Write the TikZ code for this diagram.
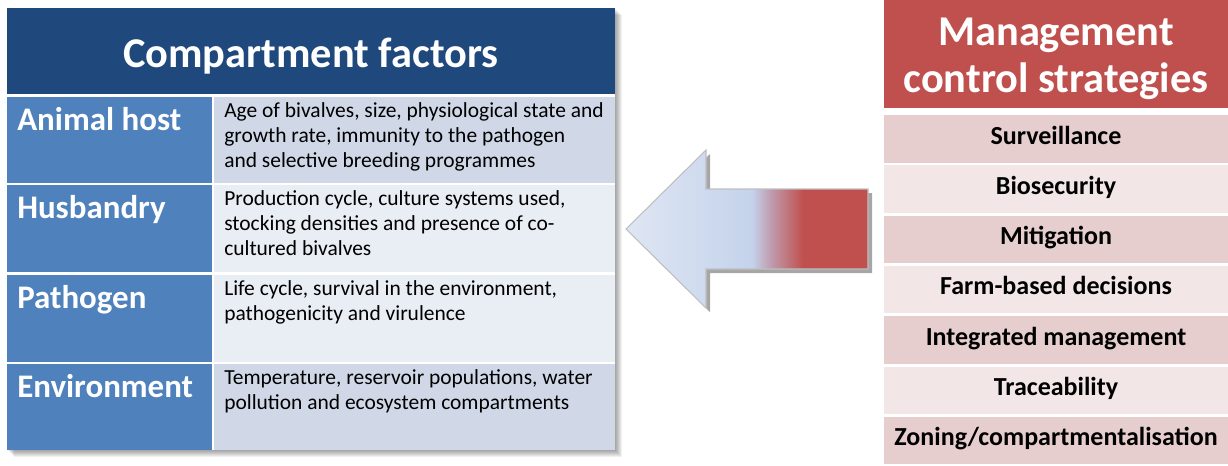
\documentclass[tikz,border=0pt]{standalone}
\usepackage{fontspec}
\setmainfont{Carlito}
\usetikzlibrary{shadows}
\definecolor{hdrblue}{HTML}{1F497D}
\definecolor{labblue}{HTML}{4F81BD}
\definecolor{celldark}{HTML}{D0D8E8}
\definecolor{celllight}{HTML}{E9EDF4}
\definecolor{mred}{HTML}{C0504D}
\definecolor{pinkdark}{HTML}{E6CECE}
\definecolor{pinklight}{HTML}{F2E6E6}
\definecolor{arrowlight}{HTML}{DFE6F3}
\definecolor{arrowblue}{HTML}{C4D3EB}
\definecolor{arrowmix}{HTML}{C09AAE}
\definecolor{arrowred}{HTML}{C0504D}
\pgfdeclarehorizontalshading{arrowshade}{100bp}{color(0bp)=(arrowlight); color(25bp)=(arrowlight); color(51bp)=(arrowblue); color(55bp)=(arrowmix); color(61.6bp)=(arrowred); color(100bp)=(arrowred)}
\newcommand\firststrut{\rule{0pt}{12.9pt}}
\tikzset{
  hdrtext/.style={font=\fontsize{31.8pt}{35pt}\selectfont\bfseries, text=white, inner sep=0pt, anchor=base},
  labtext/.style={font=\fontsize{24.7pt}{28pt}\selectfont\bfseries, text=white, inner sep=0pt, anchor=base west},
  desctext/.style={font=\fontsize{16.1pt}{18.75pt}\selectfont, text=black, inner sep=0pt, anchor=north west, align=left},
  strattext/.style={font=\fontsize{19.5pt}{22pt}\selectfont\bfseries, text=black, inner sep=0pt, anchor=base},
}
\begin{document}
\begin{tikzpicture}[x=0.75pt,y=-0.75pt]
\useasboundingbox (0,0) rectangle (1228,465);
% ---- left table shadow
\foreach \d in {1,...,7} {
  \fill[black,opacity=0.06] (7+\d,8+\d) rectangle (615+\d,450+\d);
}
\fill[white] (7,8) rectangle (615,450);
% header
\fill[hdrblue] (7,8) rectangle (615,94);
\node[hdrtext] (cfhead) at (311,67) {Compartment factors};
% rows
\fill[labblue] (7,97) rectangle (212,183);
\fill[celldark] (214,97) rectangle (615,183);
\fill[labblue] (7,185) rectangle (212,272);
\fill[celllight] (214,185) rectangle (615,272);
\fill[labblue] (7,275) rectangle (212,362);
\fill[celllight] (214,275) rectangle (615,362);
\fill[labblue] (7,364) rectangle (212,450);
\fill[celldark] (214,364) rectangle (615,450);
\node[labtext] (lhost) at (17,130) {Animal host};
\node[labtext] (lhus) at (17,218) {Husbandry};
\node[labtext] (lpat) at (17,308) {Pathogen};
\node[labtext] (lenv) at (17,397) {Environment};
\node[desctext] (dhost) at (224,99.8) {\firststrut Age of bivalves, size, physiological state and\\growth rate, immunity to the pathogen\\and selective breeding programmes};
\node[desctext] (dhus) at (224,187.8) {\firststrut Production cycle, culture systems used,\\stocking densities and presence of co-\\cultured bivalves};
\node[desctext] (dpat) at (224,277.8) {\firststrut Life cycle, survival in the environment,\\pathogenicity and virulence};
\node[desctext] (denv) at (224,366.8) {\firststrut Temperature, reservoir populations, water\\pollution and ecosystem compartments};
% ---- arrow
\path[draw=black!25, line width=0.8pt, shading=arrowshade,
      drop shadow={shadow xshift=3pt, shadow yshift=-3pt, opacity=0.35, fill=black}]
  (626,229) -- (706,150) -- (706,189) -- (868,189) -- (868,269) -- (706,269) -- (706,308) -- cycle;
% ---- right panel
\fill[mred] (884,0) rectangle (1228,108);
\node[hdrtext] (mhead1) at (1056,45) {Management};
\node[hdrtext] (mhead2) at (1056,92) {control strategies};
\foreach \i/\t in {0/Surveillance,1/Biosecurity,2/Mitigation,3/Farm-based decisions,4/Integrated management,5/Traceability,6/{Zoning/compartmentalisation}} {
  \pgfmathsetmacro\rowtop{115+50.33*\i}
  \pgfmathtruncatemacro\rowodd{mod(\i,2)}
  \ifnum\rowodd=0
    \fill[pinkdark] (884,\rowtop) rectangle (1228,\rowtop+47.5);
  \else
    \fill[pinklight] (884,\rowtop) rectangle (1228,\rowtop+47.5);
  \fi
  \node[strattext] (s\i) at (1056,\rowtop+29) {\t};
}
\end{tikzpicture}
\end{document}
